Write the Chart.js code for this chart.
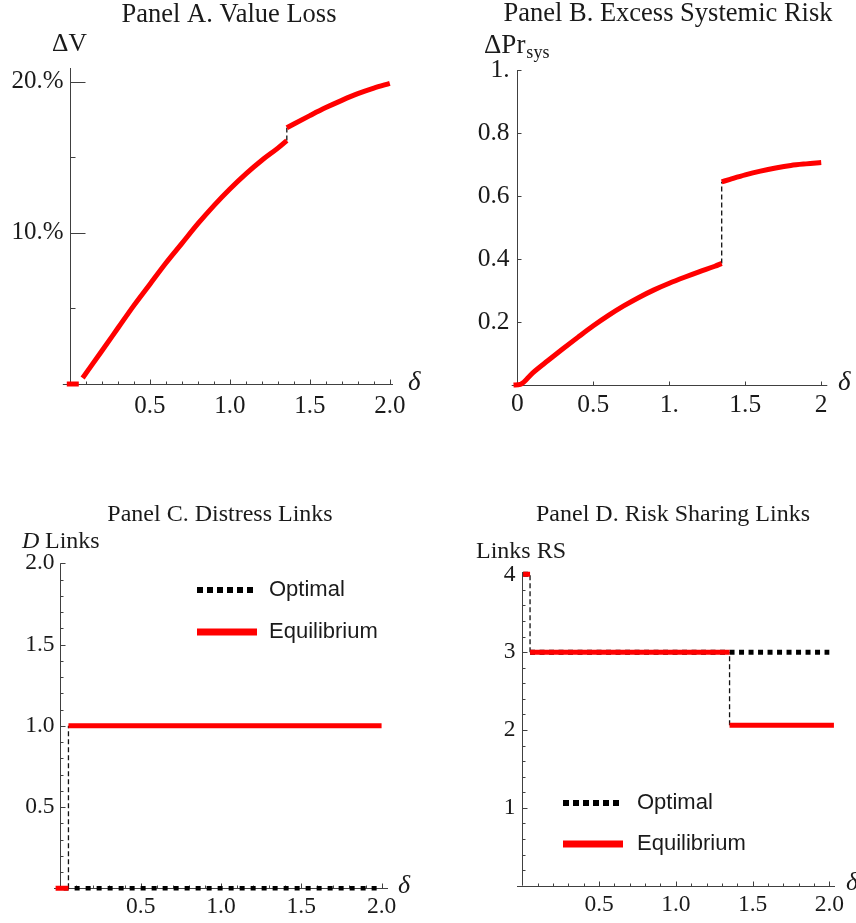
<!DOCTYPE html>
<html>
<head>
<meta charset="utf-8">
<script src="https://cdn.jsdelivr.net/npm/chart.js@4.4.1/dist/chart.umd.min.js"></script>
<style>
  body { margin: 0; background: #fff; width: 856px; height: 923px; position: relative; overflow: hidden; }
  canvas { position: absolute; }
</style>
</head>
<body>
<canvas id="panelA" width="428" height="460" style="left:0;top:0"></canvas>
<canvas id="panelB" width="428" height="460" style="left:428px;top:0"></canvas>
<canvas id="panelC" width="428" height="461" style="left:0;top:462px"></canvas>
<canvas id="panelD" width="428" height="461" style="left:428px;top:462px"></canvas>
<script>
/** --- DATA --- **/

// Panel A: value loss (fraction), two branches around the jump
const lossLowDelta = [0.079, 0.2, 0.3, 0.4, 0.5, 0.6, 0.7, 0.8, 0.9, 1.0, 1.1, 1.2, 1.3, 1.356];
const lossLow = [0.004, 0.022, 0.037, 0.052, 0.066, 0.080, 0.093, 0.106, 0.118, 0.129, 0.139, 0.148, 0.156, 0.161];
const lossHighDelta = [1.356, 1.4, 1.5, 1.6, 1.7, 1.8, 1.9, 2.0];
const lossHigh = [0.1695, 0.172, 0.1775, 0.1828, 0.1876, 0.192, 0.1957, 0.1988];
const lossStubDelta = [-0.02, 0.055];
const lossStub = [0, 0];
const lossJump = 1.356;
const aXTicks = [0.5, 1.0, 1.5, 2.0];
const aXTickLabels = ['0.5', '1.0', '1.5', '2.0'];
const aYTicks = [0.1, 0.2];
const aYTickLabels = ['10.%', '20.%'];

// Panel B: excess systemic risk
const riskLowDelta = [-0.025, 0.02, 0.1, 0.2, 0.3, 0.4, 0.5, 0.6, 0.7, 0.8, 0.9, 1.0, 1.1, 1.2, 1.3, 1.345];
const riskLow = [0, 0.002, 0.038, 0.077, 0.115, 0.152, 0.188, 0.221, 0.251, 0.278, 0.302, 0.323, 0.342, 0.360, 0.377, 0.386];
const riskHighDelta = [1.345, 1.4, 1.5, 1.6, 1.7, 1.8, 1.9, 2.0];
const riskHigh = [0.645, 0.653, 0.667, 0.679, 0.689, 0.697, 0.702, 0.706];
const riskJump = 1.345;
const bXTicks = [0, 0.5, 1, 1.5, 2];
const bXTickLabels = ['0', '0.5', '1.', '1.5', '2'];
const bYTicks = [0.2, 0.4, 0.6, 0.8, 1.0];
const bYTickLabels = ['0.2', '0.4', '0.6', '0.8', '1.'];

// Panel C: distress links
const distressEqDelta = [-0.03, 0.05, 0.05, 0.05, 2.0];
const distressEq = [0, 0, null, 1, 1];
const distressOptDelta = [0.02, 2.0];
const distressOpt = [0, 0];
const distressJump = 0.05;
const cXTicks = [0.5, 1.0, 1.5, 2.0];
const cXTickLabels = ['0.5', '1.0', '1.5', '2.0'];
const cYTicks = [0.5, 1.0, 1.5, 2.0];
const cYTickLabels = ['0.5', '1.0', '1.5', '2.0'];

// Panel D: risk sharing links
const sharingEqDelta = [0.005, 0.05, 0.05, 0.05, 1.35, 1.35, 1.35, 2.03];
const sharingEq = [4, 4, null, 3, 3, null, 2.06, 2.06];
const sharingOptDelta = [0.005, 0.05, 0.05, 0.05, 2.0];
const sharingOpt = [4, 4, null, 3, 3];
const sharingJumps = [0.05, 1.35];
const dXTicks = [0.5, 1.0, 1.5, 2.0];
const dXTickLabels = ['0.5', '1.0', '1.5', '2.0'];
const dYTicks = [1, 2, 3, 4];
const dYTickLabels = ['1', '2', '3', '4'];

const RED = '#ff0000';
const SERIF = '"Liberation Serif", "Times New Roman", serif';
const SANS = '"Liberation Sans", Arial, sans-serif';

/** --- HELPERS --- **/

const pts = (xs, ys) => xs.map((x, i) => ({ x, y: ys[i] }));

function redLine(data) {
    return { data, borderColor: RED, borderWidth: 5, cubicInterpolationMode: 'monotone' };
}
function dottedLine(data, dash, width) {
    return { data, borderColor: '#000', borderWidth: width, borderDash: dash, borderCapStyle: 'butt' };
}
function jumpLine(x, y1, y2) {
    return { data: [{ x, y: y1 }, { x, y: y2 }], borderColor: '#111', borderWidth: 1.3, borderDash: [5, 3] };
}

// Mathematica-like axes: crossing at the origin, ticks pointing inward
const mmaPlugin = {
    id: 'mma',
    beforeDatasetsDraw(chart, args, o) {
        const { ctx, chartArea: ca } = chart;
        const sx = chart.scales.x, sy = chart.scales.y;
        const x0 = Math.round(sx.getPixelForValue(0)) + 0.5;
        const y0 = Math.round(sy.getPixelForValue(0)) + 0.5;
        ctx.save();
        ctx.strokeStyle = '#404040';
        ctx.lineWidth = 1;
        ctx.beginPath();
        ctx.moveTo(ca.left, y0); ctx.lineTo(ca.right, y0);
        ctx.moveTo(x0, ca.bottom); ctx.lineTo(x0, ca.top);

        const isMajor = (v, majors) => majors.some(m => Math.abs(m - v) < 1e-6);
        if (o.xMinor) {
            for (let k = 1; k * o.xMinor <= sx.max + 1e-9; k++) {
                const v = k * o.xMinor;
                if (isMajor(v, o.xTicks)) continue;
                const px = Math.round(sx.getPixelForValue(v)) + 0.5;
                ctx.moveTo(px, y0); ctx.lineTo(px, y0 - o.xMinorLen);
            }
        }
        o.xTicks.forEach(v => {
            const px = Math.round(sx.getPixelForValue(v)) + 0.5;
            ctx.moveTo(px, y0); ctx.lineTo(px, y0 - o.xMajorLen);
        });
        if (o.yMinor) {
            for (let k = 1; k * o.yMinor <= sy.max + 1e-9; k++) {
                const v = k * o.yMinor;
                if (isMajor(v, o.yTicks)) continue;
                const py = Math.round(sy.getPixelForValue(v)) + 0.5;
                ctx.moveTo(x0, py); ctx.lineTo(x0 + o.yMinorLen, py);
            }
        }
        o.yTicks.forEach(v => {
            const py = Math.round(sy.getPixelForValue(v)) + 0.5;
            ctx.moveTo(x0, py); ctx.lineTo(x0 + o.yMajorLen, py);
        });
        ctx.stroke();

        ctx.fillStyle = '#1a1a1a';
        ctx.font = o.tickFont;
        ctx.textAlign = 'center';
        ctx.textBaseline = 'alphabetic';
        o.xTicks.forEach((v, i) => ctx.fillText(o.xLabels[i], sx.getPixelForValue(v), y0 + o.xLabelDy));
        ctx.textAlign = 'right';
        ctx.textBaseline = 'middle';
        o.yTicks.forEach((v, i) => ctx.fillText(o.yLabels[i], x0 - o.yLabelGap, sy.getPixelForValue(v)));
        ctx.restore();
    },
    afterDraw(chart, args, o) {
        const { ctx } = chart;
        ctx.save();
        ctx.fillStyle = '#1a1a1a';
        ctx.textBaseline = 'alphabetic';
        ctx.textAlign = 'center';
        ctx.font = o.titleFont;
        ctx.fillText(o.title, o.titleX, o.titleY);
        ctx.textAlign = 'left';
        let penX = 0;
        o.texts.forEach(t => {
            ctx.font = t.f;
            const x = t.x !== undefined ? t.x : penX + (t.dx || 0);
            ctx.fillText(t.t, x, t.y);
            penX = x + ctx.measureText(t.t).width;
        });

        if (o.legend) {
            const L = o.legend;
            ctx.lineCap = 'butt';
            ctx.strokeStyle = '#000';
            ctx.lineWidth = 6;
            ctx.setLineDash([6, 4]);
            ctx.beginPath(); ctx.moveTo(L.x1, L.y1); ctx.lineTo(L.x2, L.y1); ctx.stroke();
            ctx.setLineDash([]);
            ctx.strokeStyle = RED;
            ctx.lineWidth = 7;
            ctx.beginPath(); ctx.moveTo(L.x1, L.y2); ctx.lineTo(L.x2, L.y2); ctx.stroke();
            ctx.font = '22px ' + SANS;
            ctx.textBaseline = 'middle';
            ctx.fillText('Optimal', L.tx, L.y1);
            ctx.fillText('Equilibrium', L.tx, L.y2);
        }
        ctx.restore();
    }
};

function makePanel(id, cfg) {
    return new Chart(document.getElementById(id), {
        type: 'line',
        data: {
            datasets: cfg.datasets.map(d => Object.assign({ fill: false, pointRadius: 0, clip: false, spanGaps: false }, d))
        },
        options: {
            responsive: false,
            animation: false,
            events: [],
            layout: { padding: cfg.padding },
            scales: {
                x: { type: 'linear', display: false, min: cfg.x[0], max: cfg.x[1] },
                y: { type: 'linear', display: false, min: cfg.y[0], max: cfg.y[1] }
            },
            plugins: { legend: { display: false }, tooltip: { enabled: false }, mma: cfg.mma }
        },
        plugins: [mmaPlugin]
    });
}

/** --- PANELS --- **/

makePanel('panelA', {
    padding: { left: 62.8, right: 35, top: 68, bottom: 76 },
    x: [-0.045, 2.02], y: [0, 0.209],
    datasets: [
        redLine(pts(lossLowDelta, lossLow)),
        redLine(pts(lossHighDelta, lossHigh)),
        redLine(pts(lossStubDelta, lossStub)),
        jumpLine(lossJump, lossLow[lossLow.length - 1], lossHigh[0])
    ],
    mma: {
        xTicks: aXTicks, xLabels: aXTickLabels, xMinor: 0.1, xMajorLen: 5, xMinorLen: 3, xLabelDy: 28,
        yTicks: aYTicks, yLabels: aYTickLabels, yMinor: 0.05, yMajorLen: 15, yMinorLen: 5, yLabelGap: 7,
        tickFont: '25px ' + SERIF,
        title: 'Panel A. Value Loss', titleX: 229, titleY: 22, titleFont: '26.5px ' + SERIF,
        texts: [
            { t: 'ΔV', x: 52, y: 51, f: '25.5px ' + SERIF },
            { t: 'δ', x: 408, y: 390, f: 'italic 27px ' + SERIF }
        ]
    }
});

makePanel('panelB', {
    padding: { left: 83.7, right: 28.7, top: 70, bottom: 75 },
    x: [-0.037, 2.04], y: [0, 1.0],
    datasets: [
        redLine(pts(riskLowDelta, riskLow)),
        redLine(pts(riskHighDelta, riskHigh)),
        jumpLine(riskJump, riskLow[riskLow.length - 1], riskHigh[0])
    ],
    mma: {
        xTicks: bXTicks.slice(1), xLabels: bXTickLabels.slice(1), xMinor: 0, xMajorLen: 4, xMinorLen: 0, xLabelDy: 26,
        yTicks: bYTicks, yLabels: bYTickLabels, yMinor: 0, yMajorLen: 4, yMinorLen: 0, yLabelGap: 8,
        tickFont: '25.5px ' + SERIF,
        title: 'Panel B. Excess Systemic Risk', titleX: 240, titleY: 21, titleFont: '26.5px ' + SERIF,
        texts: [
            { t: bXTickLabels[0], x: 83, y: 411, f: '25.5px ' + SERIF },
            { t: 'ΔPr', x: 56, y: 53, f: '27px ' + SERIF },
            { t: 'sys', dx: 1, y: 58, f: '18px ' + SERIF },
            { t: 'δ', x: 410, y: 390, f: 'italic 27px ' + SERIF }
        ]
    }
});

makePanel('panelC', {
    padding: { left: 54, right: 40, top: 101.3, bottom: 34.7 },
    x: [-0.04, 2.04], y: [0, 2.0],
    datasets: [
        redLine(pts(distressEqDelta, distressEq)),
        dottedLine(pts(distressOptDelta, distressOpt), [5, 6], 4.5),
        jumpLine(distressJump, 0, 1)
    ],
    mma: {
        xTicks: cXTicks, xLabels: cXTickLabels, xMinor: 0.1, xMajorLen: 5, xMinorLen: 3, xLabelDy: 24,
        yTicks: cYTicks, yLabels: cYTickLabels, yMinor: 0.1, yMajorLen: 5, yMinorLen: 3, yLabelGap: 6,
        tickFont: '23.5px ' + SERIF,
        title: 'Panel C. Distress Links', titleX: 220, titleY: 59, titleFont: '24px ' + SERIF,
        texts: [
            { t: 'D', x: 22, y: 86, f: 'italic 24px ' + SERIF },
            { t: 'Links', x: 45, y: 86, f: '24px ' + SERIF },
            { t: 'δ', x: 398, y: 431, f: 'italic 26px ' + SERIF }
        ],
        legend: { x1: 197, x2: 257, y1: 128, y2: 170, tx: 269 }
    }
});

makePanel('panelD', {
    padding: { left: 89, right: 21, top: 110, bottom: 37.3 },
    x: [-0.035, 2.037], y: [0, 4.03],
    datasets: [
        redLine(pts(sharingEqDelta, sharingEq)),
        dottedLine(pts(sharingOptDelta, sharingOpt), [5, 4.5], 5),
        jumpLine(sharingJumps[0], 3, 4),
        jumpLine(sharingJumps[1], 2.06, 3)
    ],
    mma: {
        xTicks: dXTicks, xLabels: dXTickLabels, xMinor: 0.1, xMajorLen: 5, xMinorLen: 3, xLabelDy: 24,
        yTicks: dYTicks, yLabels: dYTickLabels, yMinor: 0.2, yMajorLen: 5, yMinorLen: 3, yLabelGap: 7,
        tickFont: '23.5px ' + SERIF,
        title: 'Panel D. Risk Sharing Links', titleX: 245, titleY: 59, titleFont: '24px ' + SERIF,
        texts: [
            { t: 'Links RS', x: 48, y: 96, f: '24px ' + SERIF },
            { t: 'δ', x: 418, y: 428, f: 'italic 26px ' + SERIF }
        ],
        legend: { x1: 135, x2: 195, y1: 341, y2: 382, tx: 209 }
    }
});
</script>
</body>
</html>
